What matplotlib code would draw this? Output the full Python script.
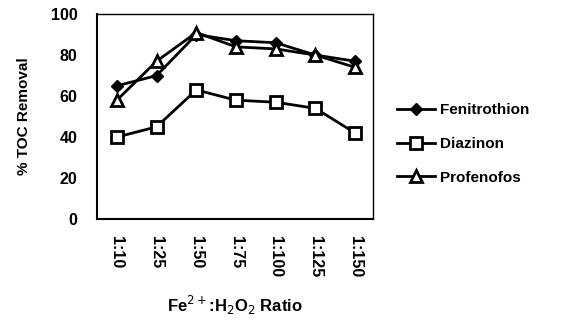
import matplotlib.pyplot as plt

plt.rcParams['font.family'] = ['Liberation Sans', 'DejaVu Sans']

ratios = ['1:10', '1:25', '1:50', '1:75', '1:100', '1:125', '1:150']
fenitrothion = [65, 70, 90, 87, 86, 80, 77]
diazinon = [40, 45, 63, 58, 57, 54, 42]
profenofos = [58, 77, 91, 84, 83, 80, 74]

fig = plt.figure(figsize=(5.81, 3.27), dpi=100)
ax = fig.add_axes([0.167, 0.330, 0.475, 0.627])

x = range(len(ratios))
ax.plot(x, fenitrothion, color='black', lw=2, marker='D', ms=6, mfc='black', label='Fenitrothion')
ax.plot(x, diazinon, color='black', lw=2, marker='s', ms=8, mfc='white', mew=2, label='Diazinon')
ax.plot(x, profenofos, color='black', lw=2, marker='^', ms=8, mfc='white', mew=2, label='Profenofos')

ax.set_xlim(-0.5, 6.45)
ax.set_ylim(0, 100)
ax.set_yticks([0, 20, 40, 60, 80, 100])
ax.set_xticks(list(x))
ax.set_xticklabels(ratios, rotation=-90, fontweight='bold', fontsize=11.5)
for lbl in ax.get_yticklabels():
    lbl.set_fontweight('bold')
    lbl.set_fontsize(11.5)
ax.tick_params(axis='y', length=0, pad=14)
ax.tick_params(axis='x', length=0, pad=12)
for s in ax.spines.values():
    s.set_linewidth(1.5)
ax.spines['right'].set_linewidth(1)
ax.spines['top'].set_linewidth(1)

ax.set_ylabel('% TOC Removal', fontweight='bold', fontsize=11, labelpad=14)
ax.set_xlabel('Fe$^{2+}$:H$_2$O$_2$ Ratio', fontweight='bold', fontsize=12, labelpad=12)

fig.legend(loc='center left', bbox_to_anchor=(0.66, 0.56), frameon=False,
           prop={'weight': 'bold', 'size': 11}, handlelength=2.5, labelspacing=1.3,
           handletextpad=0.3)

fig.savefig('out.png', dpi=100)
